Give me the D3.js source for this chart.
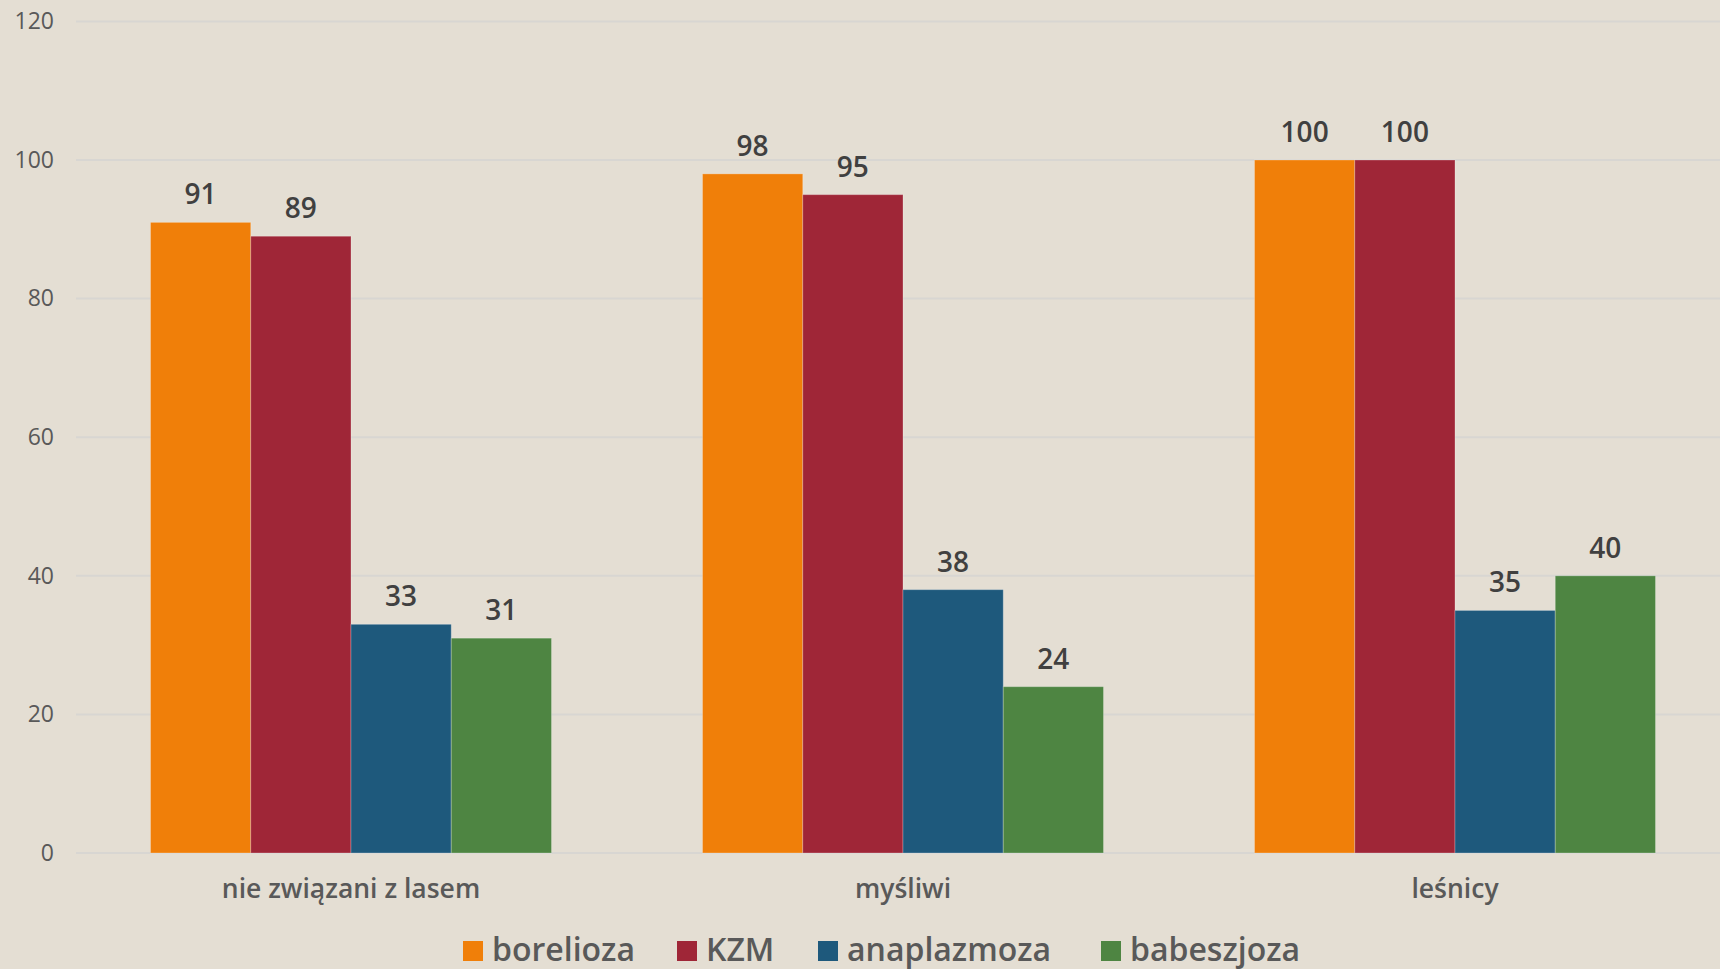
<!DOCTYPE html>
<html>
<head>
<meta charset="utf-8">
<script src="https://cdn.jsdelivr.net/npm/d3@7"></script>
<style>
  html, body { margin: 0; padding: 0; background: #e4ded3; }
  svg { display: block; }
  text { font-family: "Open Sans", "Liberation Sans", sans-serif; }
</style>
</head>
<body>
<svg width="1720" height="969"></svg>
<script>
// dane
var categories = ["nie związani z lasem", "myśliwi", "leśnicy"];
var seriesNames = ["borelioza", "KZM", "anaplazmoza", "babeszjoza"];
var borelioza = [91, 98, 100];
var kzm = [89, 95, 100];
var anaplazmoza = [33, 38, 35];
var babeszjoza = [31, 24, 40];
var yTicks = [0, 20, 40, 60, 80, 100, 120];

var seriesValues = [borelioza, kzm, anaplazmoza, babeszjoza];
var colors = ["#f07f09", "#9f2637", "#1e597c", "#4e8542"];

var svg = d3.select("svg"),
    width = +svg.attr("width"),
    height = +svg.attr("height");

var plot = { left: 75, right: 1731, top: 21.4, bottom: 853 };

// schaal X: groepen en balken binnen een groep
var x0 = d3.scaleBand()
    .domain(categories)
    .range([plot.left, plot.right])
    .paddingInner(0.2736)
    .paddingOuter(0.1368);

var x1 = d3.scaleBand()
    .domain(seriesNames)
    .range([0, x0.bandwidth()]);

var y = d3.scaleLinear()
    .domain([0, 120])
    .range([plot.bottom, plot.top]);

// rasterlijnen
svg.append("g")
    .selectAll("line")
    .data(yTicks)
    .enter().append("line")
    .attr("x1", 76)
    .attr("x2", width)
    .attr("y1", function (d) { return y(d); })
    .attr("y2", function (d) { return y(d); })
    .attr("stroke", "#d8d6d2")
    .attr("stroke-width", 2);

// Y as labels
var yAxis = svg.append("g")
    .attr("transform", "translate(54,0)")
    .call(d3.axisLeft(y).tickValues(yTicks).tickSize(0).tickPadding(0));
yAxis.select(".domain").remove();
yAxis.selectAll("text")
    .attr("fill", "#595959")
    .style("font-size", "23px")
    .style("font-family", "'Open Sans', sans-serif");

// X as labels
var xAxis = svg.append("g")
    .attr("transform", "translate(0," + plot.bottom + ")")
    .call(d3.axisBottom(x0).tickSize(0).tickPadding(0));
xAxis.select(".domain").remove();
xAxis.selectAll("text")
    .attr("dy", null)
    .attr("y", 45)
    .attr("fill", "#595959")
    .style("font-size", "26.5px")
    .style("font-weight", "600")
    .style("font-family", "'Open Sans', sans-serif");

// balken
var groups = svg.append("g")
    .selectAll("g")
    .data(categories)
    .enter().append("g")
    .attr("transform", function (d) { return "translate(" + x0(d) + ",0)"; });

var cells = groups.selectAll("g")
    .data(function (d, i) {
        return seriesNames.map(function (s, j) {
            return { series: s, value: seriesValues[j][i], color: colors[j] };
        });
    })
    .enter().append("g");

cells.append("rect")
    .attr("x", function (d) { return x1(d.series); })
    .attr("y", function (d) { return y(d.value); })
    .attr("width", x1.bandwidth())
    .attr("height", function (d) { return y(0) - y(d.value); })
    .attr("fill", function (d) { return d.color; })
    .attr("stroke", "rgba(255,255,255,0.25)")
    .attr("stroke-width", 1);

cells.append("text")
    .attr("x", function (d) { return x1(d.series) + x1.bandwidth() / 2; })
    .attr("y", function (d) { return y(d.value) - 18; })
    .attr("text-anchor", "middle")
    .attr("fill", "#404040")
    .style("font-size", "28px")
    .style("font-weight", "600")
    .text(function (d) { return d.value; });

// legenda
var legendX = [463, 677, 818, 1101];
var legend = svg.append("g")
    .selectAll("g")
    .data(seriesNames)
    .enter().append("g")
    .attr("transform", function (d, i) { return "translate(" + legendX[i] + ",941)"; });

legend.append("rect")
    .attr("width", 20)
    .attr("height", 20)
    .attr("fill", function (d, i) { return colors[i]; });

legend.append("text")
    .attr("x", 29)
    .attr("y", 20)
    .attr("fill", "#595959")
    .style("font-size", "32px")
    .style("font-weight", "600")
    .text(function (d) { return d; });
</script>
</body>
</html>
